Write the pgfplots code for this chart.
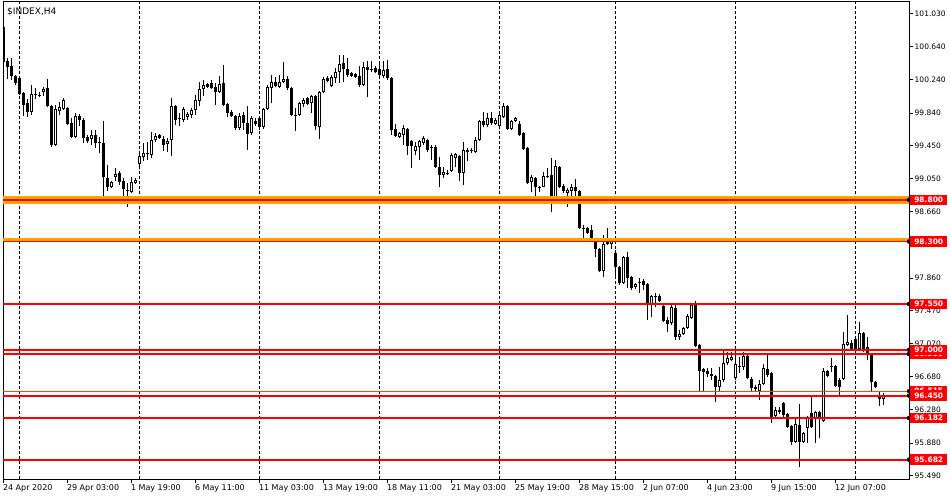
\documentclass[border=0pt]{standalone}
\usepackage{pgfplots}
\pgfplotsset{compat=1.18}
\usepackage{pgfplotstable}
\usepackage{fontspec}
\setmainfont{DejaVu Sans}
\definecolor{mtred}{RGB}{255,0,0}
\definecolor{mtorange}{RGB}{255,165,0}
\definecolor{mtorred}{RGB}{255,69,0}
\definecolor{mtsilver}{RGB}{192,192,192}

% bearish (filled) candles and dojis: index open high low close
\pgfplotstableread{
k o h l c
0 100.87 100.89 100.32 100.45
1 100.47 100.50 100.25 100.39
2 100.41 100.50 100.24 100.29
3 100.29 100.30 100.18 100.20
4 100.26 100.29 100.06 100.07
5 100.08 100.09 99.81 99.94
6 99.96 100.01 99.79 99.85
8 100.07 100.14 100.01 100.06
9 100.06 100.09 100.03 100.05
11 100.14 100.25 99.91 99.93
12 99.93 99.94 99.43 99.46
16 99.90 99.91 99.70 99.71
17 99.72 99.78 99.54 99.55
19 99.81 99.83 99.69 99.76
20 99.76 99.78 99.48 99.54
21 99.55 99.58 99.48 99.50
23 99.58 99.64 99.42 99.48
24 99.49 99.55 99.36 99.48
25 99.48 99.75 98.77 99.07
26 99.06 99.22 98.91 98.95
29 99.12 99.14 98.98 99.01
30 99.03 99.06 98.81 98.93
31 98.92 99.00 98.71 98.91
36 99.36 99.49 99.28 99.35
39 99.58 99.59 99.53 99.54
40 99.53 99.56 99.38 99.46
43 99.93 99.94 99.70 99.76
44 99.78 99.84 99.69 99.77
51 100.19 100.20 100.14 100.15
52 100.20 100.24 100.13 100.14
53 100.15 100.20 99.94 100.09
55 100.20 100.42 99.93 99.94
56 99.95 99.96 99.79 99.84
57 99.85 99.88 99.79 99.81
58 99.81 99.82 99.64 99.66
60 99.82 99.85 99.64 99.72
61 99.72 99.93 99.40 99.59
63 99.75 99.78 99.69 99.71
64 99.78 99.81 99.64 99.67
68 100.21 100.27 100.15 100.16
71 100.25 100.29 100.12 100.14
72 100.14 100.15 99.81 99.82
73 99.82 99.90 99.63 99.81
76 100.02 100.03 99.94 99.95
78 100.05 100.06 99.64 99.69
81 100.26 100.29 100.21 100.22
85 100.44 100.54 100.21 100.37
86 100.37 100.50 100.27 100.30
87 100.32 100.33 100.27 100.29
88 100.31 100.32 100.26 100.27
89 100.29 100.41 100.15 100.18
91 100.39 100.47 100.03 100.36
92 100.37 100.47 100.33 100.36
93 100.38 100.41 100.32 100.33
94 100.37 100.45 100.27 100.30
96 100.37 100.48 100.24 100.26
97 100.26 100.27 99.58 99.64
98 99.65 99.71 99.55 99.57
101 99.65 99.66 99.34 99.45
102 99.51 99.52 99.18 99.45
106 99.52 99.53 99.37 99.40
107 99.43 99.46 99.28 99.42
108 99.43 99.46 99.18 99.19
109 99.19 99.31 98.95 99.10
111 99.12 99.16 99.10 99.11
114 99.33 99.34 99.03 99.12
116 99.40 99.42 99.27 99.37
117 99.40 99.42 99.36 99.39
120 99.75 99.85 99.67 99.70
122 99.78 99.85 99.70 99.72
126 99.93 99.94 99.64 99.65
129 99.71 99.75 99.57 99.58
130 99.60 99.61 99.40 99.41
131 99.42 99.43 98.99 99.00
133 99.06 99.07 98.83 98.95
134 98.95 98.97 98.89 98.94
136 99.09 99.18 99.06 99.08
137 99.10 99.30 98.65 98.79
139 99.19 99.21 98.94 98.95
140 98.97 98.99 98.88 98.91
143 98.95 99.05 98.75 98.91
144 98.91 98.92 98.45 98.46
145 98.46 98.50 98.32 98.45
146 98.46 98.47 98.39 98.40
147 98.44 98.50 98.29 98.31
148 98.32 98.33 98.11 98.21
149 98.21 98.22 97.93 97.95
151 98.32 98.46 98.26 98.27
153 98.16 98.20 97.89 97.99
154 97.99 98.01 97.78 97.80
156 98.11 98.17 97.74 97.86
157 97.87 97.89 97.72 97.74
159 97.81 97.86 97.68 97.80
160 97.83 97.85 97.72 97.78
161 97.79 97.80 97.36 97.54
163 97.65 97.68 97.51 97.64
164 97.65 97.67 97.57 97.59
165 97.53 97.54 97.33 97.35
166 97.36 97.39 97.21 97.31
168 97.50 97.55 97.12 97.15
173 97.55 97.59 97.03 97.05
174 97.06 97.07 96.49 96.75
175 96.77 96.78 96.51 96.73
176 96.75 96.78 96.67 96.71
177 96.71 96.78 96.64 96.69
178 96.69 96.70 96.37 96.55
184 96.81 96.91 96.72 96.80
186 96.93 96.94 96.65 96.66
187 96.65 96.67 96.49 96.54
188 96.55 96.58 96.51 96.53
191 96.77 96.94 96.67 96.70
192 96.72 96.73 96.12 96.19
194 96.28 96.31 96.23 96.25
195 96.36 96.37 96.19 96.22
196 96.23 96.24 96.06 96.07
197 96.09 96.10 95.86 95.89
199 96.10 96.35 95.59 95.89
202 96.24 96.43 96.06 96.07
204 96.25 96.27 95.94 96.17
206 96.75 96.76 96.67 96.69
207 96.81 96.90 96.73 96.79
208 96.81 96.82 96.55 96.56
209 96.64 96.66 96.46 96.55
212 97.08 97.12 97.00 97.01
213 97.13 97.14 97.00 97.01
215 97.20 97.21 96.97 97.00
216 97.03 97.15 96.88 96.94
217 96.94 96.95 96.49 96.61
218 96.61 96.63 96.54 96.55
219 96.43 96.49 96.33 96.41
}\bear

% bullish (hollow) candles: index open high low close
\pgfplotstableread{
k o h l c
7 99.85 100.18 99.82 100.07
10 100.09 100.15 100.05 100.13
13 99.46 99.94 99.45 99.89
14 99.87 99.97 99.82 99.91
15 99.89 100.02 99.88 100.00
18 99.55 99.84 99.54 99.81
22 99.53 99.64 99.46 99.58
27 98.95 99.03 98.94 99.01
28 99.07 99.18 99.03 99.11
32 98.89 99.07 98.88 99.01
33 99.00 99.06 98.99 99.04
34 99.23 99.37 99.21 99.32
35 99.31 99.48 99.27 99.36
37 99.34 99.61 99.30 99.52
38 99.52 99.60 99.49 99.57
41 99.47 99.54 99.37 99.50
42 99.52 100.02 99.32 99.93
45 99.76 99.91 99.73 99.89
46 99.79 99.85 99.76 99.83
47 99.82 99.90 99.78 99.88
48 99.88 100.06 99.82 100.00
49 99.99 100.21 99.93 100.13
50 100.13 100.24 100.05 100.18
54 100.09 100.29 100.08 100.19
59 99.66 99.84 99.64 99.81
62 99.60 99.81 99.58 99.78
65 99.67 99.90 99.65 99.89
66 99.89 100.18 99.88 100.15
67 100.14 100.30 99.96 100.21
69 100.15 100.30 100.14 100.21
70 100.21 100.45 100.20 100.25
74 99.82 99.97 99.81 99.96
75 99.95 100.02 99.91 100.00
77 99.96 100.06 99.84 100.05
79 99.67 100.10 99.53 100.09
80 100.09 100.27 100.08 100.25
82 100.17 100.30 100.15 100.27
83 100.26 100.38 100.20 100.33
84 100.33 100.54 100.20 100.43
90 100.18 100.45 100.17 100.39
95 100.29 100.47 100.26 100.36
99 99.55 99.61 99.54 99.60
100 99.58 99.70 99.46 99.66
103 99.39 99.49 99.34 99.45
104 99.43 99.52 99.28 99.51
105 99.48 99.57 99.46 99.54
110 99.10 99.19 99.06 99.13
112 99.15 99.36 99.13 99.34
113 99.30 99.36 99.19 99.35
115 99.12 99.49 98.98 99.40
118 99.37 99.55 99.36 99.52
119 99.52 99.76 99.51 99.75
121 99.70 99.84 99.67 99.78
123 99.71 99.78 99.70 99.76
124 99.69 99.85 99.67 99.82
125 99.79 99.96 99.78 99.93
127 99.65 99.76 99.64 99.75
128 99.74 99.79 99.73 99.78
132 99.01 99.10 98.89 99.07
135 98.95 99.13 98.95 99.09
138 98.79 99.28 98.77 99.21
141 98.88 98.94 98.71 98.92
142 98.91 98.99 98.76 98.95
150 97.95 98.38 97.87 98.27
152 98.27 98.34 98.21 98.33
155 97.80 98.13 97.79 98.11
158 97.75 97.80 97.73 97.79
162 97.54 97.66 97.39 97.65
167 97.32 97.55 97.30 97.51
169 97.15 97.24 97.12 97.19
170 97.19 97.27 97.18 97.26
171 97.26 97.43 97.25 97.41
172 97.38 97.56 97.37 97.54
179 96.55 96.79 96.51 96.64
180 96.64 96.99 96.61 96.84
181 96.84 96.97 96.82 96.90
182 96.88 96.97 96.87 96.91
183 96.66 96.94 96.64 96.83
185 96.79 96.97 96.76 96.93
189 96.51 96.64 96.40 96.59
190 96.59 96.83 96.58 96.78
193 96.21 96.31 96.19 96.28
198 95.89 96.19 95.88 96.11
200 95.89 96.01 95.88 96.00
201 96.06 96.21 95.88 96.18
203 96.17 96.27 95.88 96.25
205 96.15 96.78 96.13 96.75
210 96.65 97.21 96.64 97.07
211 97.06 97.42 97.05 97.09
214 97.01 97.33 97.00 97.20
220 96.41 96.48 96.34 96.44
}\bull

\pgfplotsset{
  mtaxis/.style={
    at={(3bp,21bp)}, anchor=south west,
    scale only axis, width=906bp, height=477bp,
    xmin=-0.075, xmax=226.4, ymin=95.45, ymax=101.174,
  },
  wick/.style={draw=none, mark=none, forget plot,
    error bars/.cd, y dir=plus, y explicit, error mark=none,
    error bar style={line width=1bp, black}},
  body/.style={draw=none, mark=none, forget plot,
    error bars/.cd, y dir=plus, y explicit, error mark=none,
    error bar style={line width=3bp, #1}},
}

\begin{document}
\begin{tikzpicture}
\useasboundingbox (0bp,0bp) rectangle (950bp,500bp);
\begin{axis}[mtaxis,
  axis line style={line width=1bp, black},
  xtick={0,16,...,208},
  xticklabels={24 Apr 2020, 29 Apr 03:00, 1 May 19:00, 6 May 11:00, 11 May 03:00, 13 May 19:00, 18 May 11:00, 21 May 03:00, 25 May 19:00, 28 May 15:00, 2 Jun 07:00, 4 Jun 23:00, 9 Jun 15:00, 12 Jun 07:00},
  ytick={95.490,95.880,96.280,96.680,97.070,97.470,97.860,98.260,98.660,99.050,99.450,99.840,100.240,100.640,101.030},
  yticklabels={95.490,95.880,96.280,96.680,97.070,97.470,97.860,98.260,98.660,99.050,99.450,99.840,100.240,100.640,101.030},
  xtick pos=bottom, ytick pos=right, yticklabel pos=right,
  tick align=outside, major tick length=4bp,
  tick style={line width=1bp, black},
  xticklabel style={font=\fontsize{8bp}{9bp}\selectfont, anchor=north west, inner sep=0pt, xshift=-0.5bp, yshift=-1.5bp},
  yticklabel style={font=\fontsize{7.5bp}{8bp}\selectfont, anchor=west, inner sep=0pt, xshift=1.5bp},
  extra x ticks={4,34,64,94,124,153,183,213},
  extra x tick labels={},
  extra x tick style={grid=major, major tick length=0pt,
    major grid style={black, line width=1bp, dash pattern=on 3bp off 2bp}},
]
% wicks
\addplot[wick] table[x=k, y=l, y error expr=\thisrow{h}-\thisrow{l}] {\bear};
\addplot[wick] table[x=k, y=l, y error expr=\thisrow{h}-\thisrow{l}] {\bull};
% bearish bodies
\addplot[body=black] table[x=k, y=c, y error expr=\thisrow{o}-\thisrow{c}] {\bear};
% bullish bodies: black outline, white inside
\addplot[body=black] table[x=k, y=o, y error expr=\thisrow{c}-\thisrow{o}] {\bull};
\addplot[draw=none, mark=none, forget plot,
  error bars/.cd, y dir=plus, y explicit, error mark=none,
  error bar style={line width=1bp, white}]
  table[x=k, y expr=\thisrow{o}+0.012, y error expr=\thisrow{c}-\thisrow{o}-0.024] {\bull};
% level lines
\addplot[mtorange, line width=8bp, forget plot] coordinates {(-5,98.80) (240,98.80)};
\addplot[mtorange, line width=4.5bp, forget plot] coordinates {(-5,98.318) (240,98.318)};
\addplot[mtsilver, line width=1bp, forget plot] coordinates {(-5,96.434) (240,96.434)};
\addplot[mtorred, line width=1bp, forget plot] coordinates {(-5,96.505) (240,96.505)};
\addplot[mtred, line width=1.8bp, forget plot] coordinates {(-5,98.80) (240,98.80)};
\addplot[mtred, line width=1.8bp, forget plot] coordinates {(-5,98.30) (240,98.30)};
\addplot[mtred, line width=1.8bp, forget plot] coordinates {(-5,97.55) (240,97.55)};
\addplot[mtred, line width=1.8bp, forget plot] coordinates {(-5,97.00) (240,97.00)};
\addplot[mtred, line width=1.8bp, forget plot] coordinates {(-5,96.95) (240,96.95)};
\addplot[mtred, line width=1.8bp, forget plot] coordinates {(-5,96.45) (240,96.45)};
\addplot[mtred, line width=1.8bp, forget plot] coordinates {(-5,96.182) (240,96.182)};
\addplot[mtred, line width=1.8bp, forget plot] coordinates {(-5,95.682) (240,95.682)};
\node[anchor=north west, inner sep=0pt, font=\fontsize{9bp}{10bp}\selectfont] at (rel axis cs:0,1) [xshift=4bp, yshift=-5bp] {\$INDEX,H4};
\end{axis}
\begin{axis}[mtaxis, hide axis, clip=false]
\addplot[only marks, mark=*, mark options={draw=none, fill=none},
  point meta=explicit symbolic, nodes near coords,
  nodes near coords style={anchor=west, xshift=1bp, yshift=0pt, fill=mtred, text=white,
    inner sep=0pt, minimum width=37bp, minimum height=10.5bp,
    font=\bfseries\fontsize{7.5bp}{8bp}\selectfont}]
  coordinates {(226.4,98.80) [98.800] (226.4,98.30) [98.300] (226.4,97.55) [97.550]
    (226.4,96.95) [96.950] (226.4,97.00) [97.000] (226.4,96.505) [96.515]
    (226.4,96.45) [96.450] (226.4,96.182) [96.182] (226.4,95.682) [95.682]};
\end{axis}
\end{tikzpicture}
\end{document}
